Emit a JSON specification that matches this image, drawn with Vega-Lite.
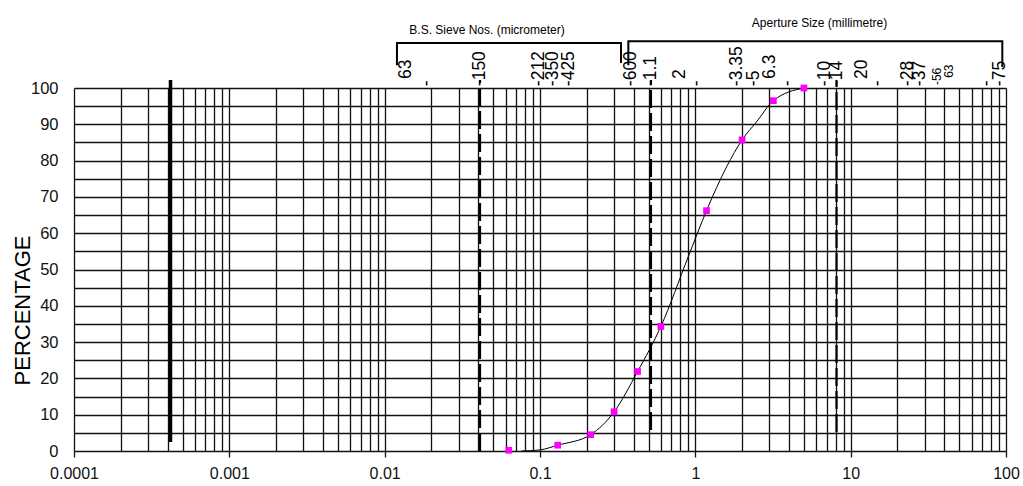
{
  "$schema": "https://vega.github.io/schema/vega-lite/v6.json",
  "width": 932,
  "height": 363,
  "autosize": {"type": "none"},
  "padding": {"left": 74, "top": 88, "right": 17, "bottom": 35},
  "background": "white",
  "config": {
    "view": {"stroke": null},
    "font": "Liberation Sans",
    "text": {"font": "Liberation Sans", "color": "#000"},
    "axisY": {
      "grid": true,
      "gridColor": "#111",
      "gridWidth": 1.3,
      "gridOpacity": 1,
      "domain": false,
      "ticks": false,
      "labelFontSize": 16.5,
      "labelFont": "Liberation Sans",
      "labelColor": "#111",
      "labelPadding": 16,
      "labelOverlap": false,
      "titleFont": "Liberation Sans",
      "titleFontSize": 22,
      "titleFontWeight": "normal",
      "titleColor": "#000"
    }
  },
  "datasets": {
    "curve": [
      {"size": 0.076, "pct": 0},
      {"size": 0.1, "pct": 0.3},
      {"size": 0.13, "pct": 1.6},
      {"size": 0.212, "pct": 4.5},
      {"size": 0.3, "pct": 10.8},
      {"size": 0.425, "pct": 21.9},
      {"size": 0.6, "pct": 34.3},
      {"size": 0.9, "pct": 53.5},
      {"size": 1.18, "pct": 66.2},
      {"size": 1.59, "pct": 78.3},
      {"size": 2.0, "pct": 85.7},
      {"size": 2.48, "pct": 90.7},
      {"size": 3.18, "pct": 96.5},
      {"size": 5.0, "pct": 100}
    ],
    "points": [
      {"size": 0.063, "pct": 0.2},
      {"size": 0.13, "pct": 1.6},
      {"size": 0.212, "pct": 4.5},
      {"size": 0.3, "pct": 10.8},
      {"size": 0.425, "pct": 21.9},
      {"size": 0.6, "pct": 34.3},
      {"size": 1.18, "pct": 66.2},
      {"size": 2.0, "pct": 85.7},
      {"size": 3.18, "pct": 96.5},
      {"size": 5.0, "pct": 100}
    ],
    "solidline": [
      {"size": 0.000418, "pct": 2.5, "high": 102.2}
    ],
    "dashlines": [
      {"size": 0.0411, "pct": 0, "high": 102.2},
      {"size": 0.518, "pct": 5.8, "high": 102.2},
      {"size": 8.11, "pct": 5.2, "high": 102.2}
    ],
    "brackets": [
      {"b": "sieve", "o": 1, "size": 0.012, "pct": 106.3},
      {"b": "sieve", "o": 2, "size": 0.012, "pct": 112.4},
      {"b": "sieve", "o": 3, "size": 0.3323, "pct": 112.4},
      {"b": "sieve", "o": 4, "size": 0.3323, "pct": 106.9},
      {"b": "aperture", "o": 1, "size": 0.3704, "pct": 106.3},
      {"b": "aperture", "o": 2, "size": 0.3704, "pct": 112.9},
      {"b": "aperture", "o": 3, "size": 94.7, "pct": 112.9},
      {"b": "aperture", "o": 4, "size": 94.7, "pct": 105.8}
    ],
    "toplabels": [
      {"size": 0.01874, "pct": 100.5, "t": "-"},
      {"size": 0.0411, "pct": 100.5, "t": "-150"},
      {"size": 0.09854, "pct": 100.5, "t": "-212"},
      {"size": 0.1213, "pct": 100.5, "t": "-350"},
      {"size": 0.1537, "pct": 100.5, "t": "-425"},
      {"size": 0.3855, "pct": 100.5, "t": "-600"},
      {"size": 0.5184, "pct": 100.5, "t": "-1.1"},
      {"size": 1.025, "pct": 100.5, "t": "-"},
      {"size": 1.855, "pct": 100.5, "t": "-3.35"},
      {"size": 2.386, "pct": 100.5, "t": "-5"},
      {"size": 3.951, "pct": 100.5, "t": "-"},
      {"size": 6.838, "pct": 100.5, "t": "-10"},
      {"size": 8.169, "pct": 100.5, "t": "-14"},
      {"size": 15.0, "pct": 100.5, "t": "-"},
      {"size": 23.39, "pct": 100.5, "t": "-28"},
      {"size": 27.96, "pct": 100.5, "t": "-37"},
      {"size": 75.47, "pct": 100.5, "t": "-"},
      {"size": 91.54, "pct": 100.5, "t": "-75"},
      {"size": 0.01372, "pct": 102.5, "t": "63"},
      {"size": 0.797, "pct": 102.5, "t": "2"},
      {"size": 3.026, "pct": 102.5, "t": "6.3"},
      {"size": 11.84, "pct": 102.5, "t": "20"}
    ],
    "smalltoplabels": [
      {"size": 35.96, "pct": 100.8, "t": "-56"},
      {"size": 42.97, "pct": 102.8, "t": "63"}
    ],
    "titles": [
      {"size": 0.0456, "pct": 116.0, "t": "B.S. Sieve Nos. (micrometer)"},
      {"size": 6.3, "pct": 117.9, "t": "Aperture Size (millimetre)"}
    ]
  },
  "encoding": {
    "x": {
      "field": "size",
      "type": "quantitative",
      "scale": {"type": "log", "domain": [0.0001, 100], "nice": false},
      "axis": {
        "title": null,
        "values": [0.0001, 0.0002, 0.0003, 0.0004, 0.0005, 0.0006, 0.0007, 0.0008, 0.0009,
                   0.001, 0.002, 0.003, 0.004, 0.005, 0.006, 0.007, 0.008, 0.009,
                   0.01, 0.02, 0.03, 0.04, 0.05, 0.06, 0.07, 0.08, 0.09,
                   0.1, 0.2, 0.3, 0.4, 0.5, 0.6, 0.7, 0.8, 0.9,
                   1, 2, 3, 4, 5, 6, 7, 8, 9,
                   10, 20, 30, 40, 50, 60, 70, 80, 90, 100],
        "format": "~g",
        "labelExpr": "indexof([0.0001, 0.001, 0.01, 0.1, 1, 10, 100], datum.value) >= 0 ? datum.label : ''",
        "grid": true,
        "gridColor": "#111",
        "gridWidth": 1.3,
        "gridOpacity": 1,
        "domain": false,
        "ticks": true,
        "tickColor": "#111",
        "tickWidth": 1.3,
        "tickSize": 6,
        "tickOpacity": {"condition": {"test": "indexof([0.0001, 0.001, 0.01, 0.1, 1, 10, 100], datum.value) >= 0", "value": 1}, "value": 0},
        "labelFontSize": 16,
        "labelFont": "Liberation Sans",
        "labelColor": "#111",
        "labelPadding": 8,
        "labelFlush": false,
        "labelOverlap": false
      }
    },
    "y": {
      "field": "pct",
      "type": "quantitative",
      "scale": {"domain": [0, 100], "nice": false},
      "axis": {
        "title": "PERCENTAGE",
        "titleAngle": -90,
        "titleX": -52,
        "titleY": 222,
        "titleAlign": "center",
        "titleBaseline": "middle",
        "values": [0, 5, 10, 15, 20, 25, 30, 35, 40, 45, 50, 55, 60, 65, 70, 75, 80, 85, 90, 95, 100],
        "labelExpr": "datum.value % 10 === 0 ? datum.label : ''"
      }
    }
  },
  "layer": [
    {
      "data": {"name": "curve"},
      "mark": {"type": "line", "interpolate": "monotone", "color": "#000", "strokeWidth": 1}
    },
    {
      "data": {"name": "solidline"},
      "mark": {"type": "rule", "color": "#000", "strokeWidth": 3.5},
      "encoding": {"y2": {"field": "high"}}
    },
    {
      "data": {"name": "dashlines"},
      "mark": {"type": "rule", "color": "#000", "strokeWidth": 2.2, "strokeDash": [18, 5]},
      "encoding": {"y2": {"field": "high"}}
    },
    {
      "data": {"name": "points"},
      "mark": {"type": "square", "filled": true, "color": "#ff00ff", "size": 45, "opacity": 1}
    },
    {
      "data": {"name": "brackets"},
      "mark": {"type": "line", "color": "#000", "strokeWidth": 2, "clip": false},
      "encoding": {
        "detail": {"field": "b"},
        "order": {"field": "o", "type": "quantitative"}
      }
    },
    {
      "data": {"name": "toplabels"},
      "mark": {"type": "text", "angle": 270, "align": "left", "baseline": "middle", "fontSize": 17.5, "font": "Liberation Sans", "color": "#000"},
      "encoding": {"text": {"field": "t"}}
    },
    {
      "data": {"name": "smalltoplabels"},
      "mark": {"type": "text", "angle": 270, "align": "left", "baseline": "middle", "fontSize": 12, "font": "Liberation Sans", "color": "#000"},
      "encoding": {"text": {"field": "t"}}
    },
    {
      "data": {"name": "titles"},
      "mark": {"type": "text", "align": "center", "baseline": "middle", "fontSize": 12, "font": "Liberation Sans", "color": "#000"},
      "encoding": {"text": {"field": "t"}}
    }
  ]
}
